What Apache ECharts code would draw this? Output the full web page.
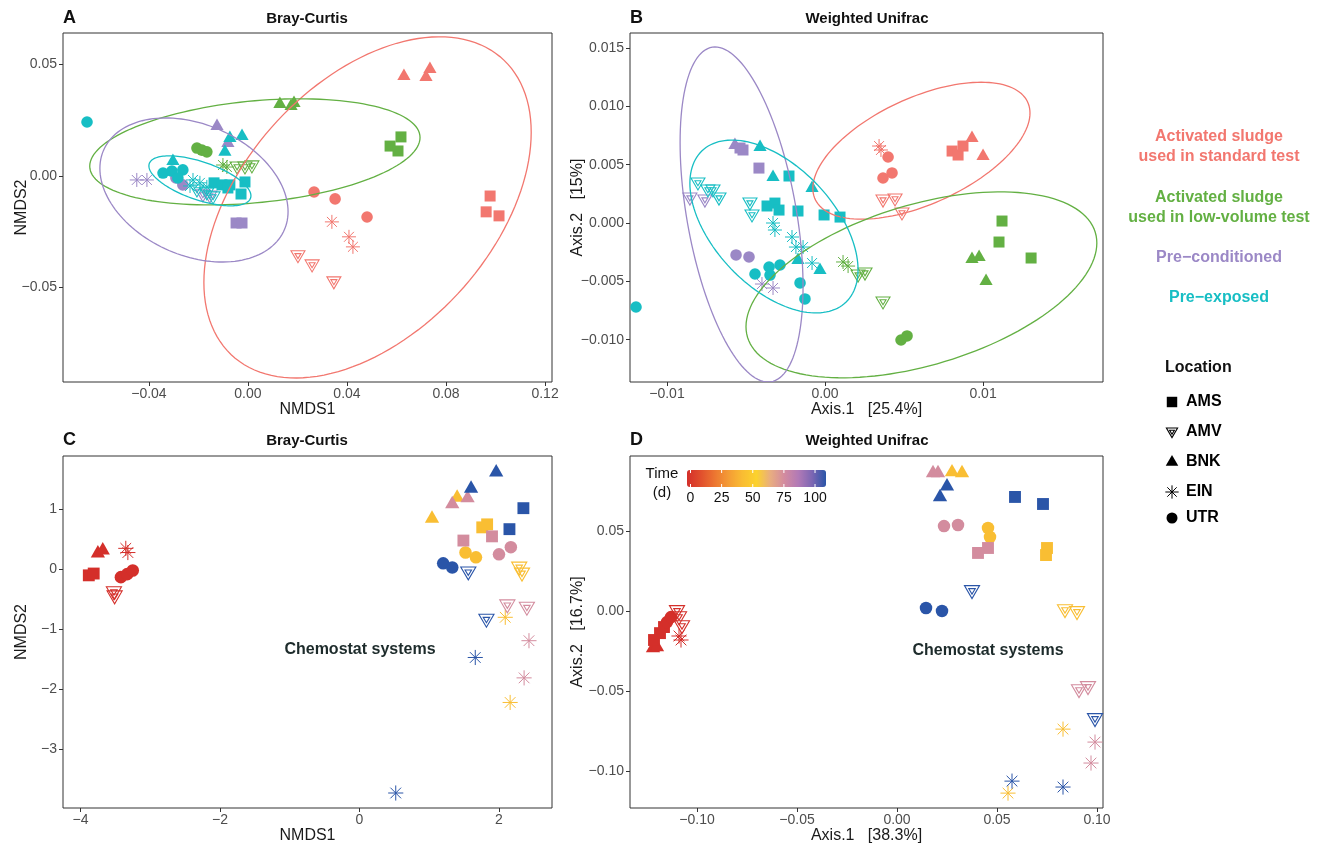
<!DOCTYPE html>
<html>
<head>
<meta charset="utf-8">
<title>Bray-Curtis / Weighted Unifrac ordinations</title>
<script src="https://cdn.jsdelivr.net/npm/echarts@6/dist/echarts.min.js"></script>
<style>
  html, body { margin: 0; padding: 0; background: #fff; }
  #chart { width: 1322px; height: 846px; }
</style>
</head>
<body>
<div id="chart"></div>
<script>
// location codes, legend order
const locations = ['AMS', 'AMV', 'BNK', 'EIN', 'UTR'];
const groupNames = ['Activated sludge\nused in standard test', 'Activated sludge\nused in low-volume test', 'Pre\u2212conditioned', 'Pre\u2212exposed'];
const groupColors = ['#f2776f', '#63b043', '#9b88c6', '#17bec4'];

// A: Bray-Curtis NMDS  [NMDS1, NMDS2, location]
const aStandard = [
  [0.0630, 0.0448, 'BNK'], [0.0719, 0.0444, 'BNK'], [0.0735, 0.0480, 'BNK'],
  [0.0978, -0.0090, 'AMS'], [0.0962, -0.0161, 'AMS'], [0.1014, -0.0179, 'AMS'],
  [0.0267, -0.0072, 'UTR'], [0.0352, -0.0103, 'UTR'], [0.0481, -0.0184, 'UTR'],
  [0.0339, -0.0206, 'EIN'], [0.0408, -0.0273, 'EIN'], [0.0424, -0.0318, 'EIN'],
  [0.0202, -0.0358, 'AMV'], [0.0259, -0.0399, 'AMV'], [0.0347, -0.0475, 'AMV']
];
const aLowVolume = [
  [0.0129, 0.0323, 'BNK'], [0.0174, 0.0314, 'BNK'], [0.0186, 0.0327, 'BNK'],
  [0.0618, 0.0175, 'AMS'], [0.0574, 0.0134, 'AMS'], [0.0606, 0.0112, 'AMS'],
  [-0.0206, 0.0125, 'UTR'], [-0.0186, 0.0116, 'UTR'], [-0.0166, 0.0108, 'UTR'],
  [-0.0101, 0.0049, 'EIN'], [-0.0085, 0.0040, 'EIN'],
  [-0.0044, 0.0040, 'AMV'], [-0.0012, 0.0040, 'AMV'], [0.0016, 0.0045, 'AMV']
];
const aPreConditioned = [
  [-0.0125, 0.0224, 'BNK'], [-0.0081, 0.0148, 'BNK'],
  [-0.0048, -0.0211, 'AMS'], [-0.0024, -0.0211, 'AMS'],
  [-0.0291, -0.0009, 'UTR'], [-0.0263, -0.0040, 'UTR'],
  [-0.0449, -0.0018, 'EIN'], [-0.0408, -0.0018, 'EIN'],
  [-0.0182, -0.0085, 'AMV'], [-0.0154, -0.0090, 'AMV']
];
const aPreExposed = [
  [-0.0650, 0.0242, 'UTR'], [-0.0343, 0.0013, 'UTR'], [-0.0307, 0.0022, 'UTR'], [-0.0263, 0.0027, 'UTR'], [-0.0283, -0.0009, 'UTR'],
  [-0.0303, 0.0067, 'BNK'], [-0.0093, 0.0108, 'BNK'], [-0.0073, 0.0170, 'BNK'], [-0.0024, 0.0179, 'BNK'],
  [-0.0137, -0.0031, 'AMS'], [-0.0105, -0.0040, 'AMS'], [-0.0073, -0.0040, 'AMS'], [-0.0012, -0.0027, 'AMS'], [-0.0028, -0.0081, 'AMS'], [-0.0081, -0.0054, 'AMS'],
  [-0.0222, -0.0018, 'EIN'], [-0.0194, -0.0031, 'EIN'], [-0.0166, -0.0049, 'EIN'], [-0.0234, -0.0045, 'EIN'],
  [-0.0206, -0.0063, 'AMV'], [-0.0166, -0.0076, 'AMV'], [-0.0141, -0.0094, 'AMV']
];
// confidence ellipses [centre x, centre y, half width, half height, correlation]
const aEllipses = [
  [0.0483, -0.0141, 0.0661, 0.0765, 0.44],
  [0.0028, 0.0108, 0.0667, 0.0238, 0.27],
  [-0.0218, -0.0063, 0.0380, 0.0323, -0.30],
  [-0.0194, -0.0022, 0.0206, 0.0112, -0.60]
];

// B: Weighted Unifrac PCoA  [Axis.1, Axis.2, location]
const bStandard = [
  [0.00342, 0.00660, 'EIN'], [0.00354, 0.00626, 'EIN'],
  [0.00399, 0.00566, 'UTR'], [0.00367, 0.00386, 'UTR'], [0.00424, 0.00429, 'UTR'],
  [0.00804, 0.00617, 'AMS'], [0.00842, 0.00583, 'AMS'], [0.00873, 0.00660, 'AMS'],
  [0.00930, 0.00728, 'BNK'], [0.01000, 0.00574, 'BNK'],
  [0.00367, 0.00197, 'AMV'], [0.00443, 0.00206, 'AMV'], [0.00487, 0.00086, 'AMV']
];
const bLowVolume = [
  [0.01120, 0.00017, 'AMS'], [0.01101, -0.00163, 'AMS'], [0.01304, -0.00300, 'AMS'],
  [0.00930, -0.00309, 'BNK'], [0.00975, -0.00291, 'BNK'], [0.01019, -0.00497, 'BNK'],
  [0.00481, -0.01003, 'UTR'], [0.00519, -0.00968, 'UTR'],
  [0.00114, -0.00334, 'EIN'], [0.00146, -0.00369, 'EIN'],
  [0.00209, -0.00446, 'AMV'], [0.00253, -0.00429, 'AMV'], [0.00367, -0.00677, 'AMV']
];
const bPreConditioned = [
  [-0.00570, 0.00668, 'BNK'],
  [-0.00538, 0.00643, 'AMS'], [-0.00519, 0.00626, 'AMS'], [-0.00418, 0.00471, 'AMS'],
  [-0.00563, -0.00274, 'UTR'], [-0.00481, -0.00291, 'UTR'],
  [-0.00399, -0.00523, 'EIN'], [-0.00329, -0.00557, 'EIN'],
  [-0.00855, 0.00214, 'AMV'], [-0.00760, 0.00197, 'AMV']
];
const bPreExposed = [
  [-0.01196, -0.00720, 'UTR'], [-0.00443, -0.00437, 'UTR'], [-0.00354, -0.00377, 'UTR'], [-0.00285, -0.00360, 'UTR'],
  [-0.00348, -0.00446, 'UTR'], [-0.00158, -0.00514, 'UTR'], [-0.00127, -0.00651, 'UTR'],
  [-0.00411, 0.00651, 'BNK'], [-0.00329, 0.00394, 'BNK'], [-0.00082, 0.00300, 'BNK'], [-0.00171, -0.00317, 'BNK'], [-0.00032, -0.00403, 'BNK'],
  [-0.00228, 0.00403, 'AMS'], [-0.00367, 0.00146, 'AMS'], [-0.00317, 0.00171, 'AMS'], [-0.00291, 0.00111, 'AMS'],
  [-0.00171, 0.00103, 'AMS'], [-0.00006, 0.00069, 'AMS'], [0.00095, 0.00051, 'AMS'],
  [-0.00329, 0.00000, 'EIN'], [-0.00317, -0.00060, 'EIN'], [-0.00209, -0.00120, 'EIN'], [-0.00184, -0.00206, 'EIN'],
  [-0.00139, -0.00206, 'EIN'], [-0.00082, -0.00343, 'EIN'],
  [-0.00804, 0.00343, 'AMV'], [-0.00741, 0.00283, 'AMV'], [-0.00709, 0.00283, 'AMV'], [-0.00671, 0.00214, 'AMV'],
  [-0.00475, 0.00171, 'AMV'], [-0.00462, 0.00069, 'AMV']
];
const bEllipses = [
  [0.0061, 0.0062, 0.00687, 0.00587, 0.55],
  [0.0061, -0.0053, 0.0111, 0.00797, 0.45],
  [-0.00528, 0.00073, 0.00389, 0.01436, -0.43],
  [-0.00323, -0.0003, 0.00532, 0.00741, -0.50]
];

// chemostat sampling days (colour scale)
const days = [0, 43, 74, 106];
const timeColors = ['#d42f2a', '#e14f2d', '#ec7631', '#f49c35', '#f9bd33', '#fcd22d',
  '#e8ad80', '#d38b9f', '#b27ab6', '#7c66b3', '#2a55a8'];
const timeTicks = [0, 25, 50, 75, 100];

// C: Bray-Curtis NMDS of chemostats
const cDay0 = [
  [-3.75, 0.27, 'BNK'], [-3.68, 0.32, 'BNK'],
  [-3.35, 0.35, 'EIN'], [-3.32, 0.28, 'EIN'],
  [-3.88, -0.10, 'AMS'], [-3.81, -0.07, 'AMS'],
  [-3.42, -0.13, 'UTR'], [-3.33, -0.08, 'UTR'], [-3.25, -0.02, 'UTR'],
  [-3.52, -0.38, 'AMV'], [-3.51, -0.45, 'AMV']
];
const cDay43 = [
  [1.04, 0.85, 'BNK'], [1.40, 1.20, 'BNK'],
  [1.76, 0.70, 'AMS'], [1.83, 0.75, 'AMS'],
  [1.52, 0.28, 'UTR'], [1.67, 0.20, 'UTR'],
  [2.29, 0.03, 'AMV'], [2.33, -0.07, 'AMV'],
  [2.09, -0.80, 'EIN'], [2.16, -2.22, 'EIN']
];
const cDay74 = [
  [1.33, 1.09, 'BNK'], [1.55, 1.19, 'BNK'],
  [1.49, 0.48, 'AMS'], [1.90, 0.55, 'AMS'],
  [2.00, 0.25, 'UTR'], [2.17, 0.37, 'UTR'],
  [2.12, -0.60, 'AMV'], [2.40, -0.64, 'AMV'],
  [2.43, -1.19, 'EIN'], [2.36, -1.81, 'EIN']
];
const cDay106 = [
  [1.96, 1.62, 'BNK'], [1.60, 1.35, 'BNK'],
  [2.35, 1.02, 'AMS'], [2.15, 0.67, 'AMS'],
  [1.20, 0.10, 'UTR'], [1.33, 0.03, 'UTR'],
  [1.56, -0.05, 'AMV'], [1.82, -0.84, 'AMV'],
  [1.66, -1.47, 'EIN'], [0.52, -3.73, 'EIN']
];

// D: Weighted Unifrac PCoA of chemostats
const dDay0 = [
  [-0.1220, -0.0231, 'BNK'], [-0.1200, -0.0225, 'BNK'],
  [-0.1215, -0.0181, 'AMS'], [-0.1185, -0.0138, 'AMS'], [-0.1165, -0.0100, 'AMS'],
  [-0.1150, -0.0069, 'UTR'], [-0.1130, -0.0038, 'UTR'],
  [-0.1100, 0.0000, 'AMV'], [-0.1090, -0.0038, 'AMV'], [-0.1075, -0.0094, 'AMV'],
  [-0.1090, -0.0156, 'EIN'], [-0.1080, -0.0181, 'EIN']
];
const dDay43 = [
  [0.0275, 0.0869, 'BNK'], [0.0325, 0.0863, 'BNK'],
  [0.0455, 0.0519, 'UTR'], [0.0465, 0.0463, 'UTR'],
  [0.0750, 0.0394, 'AMS'], [0.0745, 0.0350, 'AMS'],
  [0.0840, 0.0006, 'AMV'], [0.0900, -0.0006, 'AMV'],
  [0.0830, -0.0738, 'EIN'], [0.0555, -0.1138, 'EIN']
];
const dDay74 = [
  [0.0180, 0.0863, 'BNK'], [0.0205, 0.0863, 'BNK'],
  [0.0235, 0.0531, 'UTR'], [0.0305, 0.0538, 'UTR'],
  [0.0405, 0.0363, 'AMS'], [0.0455, 0.0394, 'AMS'],
  [0.0910, -0.0494, 'AMV'], [0.0955, -0.0475, 'AMV'],
  [0.0990, -0.0819, 'EIN'], [0.0970, -0.0950, 'EIN']
];
const dDay106 = [
  [0.0215, 0.0713, 'BNK'], [0.0250, 0.0781, 'BNK'],
  [0.0590, 0.0713, 'AMS'], [0.0730, 0.0669, 'AMS'],
  [0.0145, 0.0019, 'UTR'], [0.0225, 0.0000, 'UTR'],
  [0.0375, 0.0125, 'AMV'], [0.0990, -0.0675, 'AMV'],
  [0.0575, -0.1063, 'EIN'], [0.0830, -0.1100, 'EIN']
];

// tick labels
const aXTicks = [-0.04, 0, 0.04, 0.08, 0.12];
const aYTicks = [-0.05, 0, 0.05];
const bXTicks = [-0.01, 0, 0.01];
const bYTicks = [-0.010, -0.005, 0, 0.005, 0.010, 0.015];
const cXTicks = [-4, -2, 0, 2];
const cYTicks = [-3, -2, -1, 0, 1];
const dXTicks = [-0.10, -0.05, 0, 0.05, 0.10];
const dYTicks = [-0.10, -0.05, 0, 0.05];

const FONT = '"Liberation Sans", Arial, Helvetica, sans-serif';

// panel layout
const panels = [
  { box: [63, 33, 489, 349], x: [-0.0747, 0.1228], y: [-0.0924, 0.0641], xt: aXTicks, yt: aYTicks, dec: [2, 2],
    xName: 'NMDS1', yName: 'NMDS2', yGap: 33 },
  { box: [630, 33, 473, 349], x: [-0.01234, 0.01759], y: [-0.01363, 0.01629], xt: bXTicks, yt: bYTicks, dec: [2, 3],
    xName: 'Axis.1   [25.4%]', yName: 'Axis.2   [15%]', yGap: 44 },
  { box: [63, 456, 489, 352], x: [-4.25, 2.76], y: [-3.98, 1.89], xt: cXTicks, yt: cYTicks, dec: [0, 0],
    xName: 'NMDS1', yName: 'NMDS2', yGap: 33 },
  { box: [630, 456, 473, 352], x: [-0.1335, 0.1030], y: [-0.1231, 0.0969], xt: dXTicks, yt: dYTicks, dec: [2, 2],
    xName: 'Axis.1   [38.3%]', yName: 'Axis.2   [16.7%]', yGap: 44 }
];

function signed(dec) {
  return function (v) {
    if (Math.abs(v) < 1e-12) v = 0;
    const s = Math.abs(v).toFixed(dec);
    return v < 0 ? '\u2212' + s : s;
  };
}

function axis(i, p, isY) {
  const ticks = isY ? p.yt : p.xt;
  const range = isY ? p.y : p.x;
  return {
    gridIndex: i,
    type: 'value',
    min: range[0],
    max: range[1],
    axisLine: { show: false, onZero: false },
    axisTick: { show: true, length: 4, customValues: ticks, lineStyle: { color: '#333', width: 1 } },
    axisLabel: { customValues: ticks, formatter: signed(p.dec[isY ? 1 : 0]), fontFamily: FONT,
      fontSize: 14, color: '#4d4d4d', margin: isY ? 6 : 5 },
    splitLine: { show: false },
    name: isY ? p.yName : p.xName,
    nameLocation: 'middle',
    nameGap: isY ? p.yGap : 20,
    nameMoveOverlap: false,
    nameTextStyle: { fontFamily: FONT, fontSize: 16, color: '#1a1a1a' }
  };
}

// marker shapes, drawn around pixel (x, y)
function mark(loc, x, y, color, s) {
  const line = (x1, y1, x2, y2) => ({ type: 'line', shape: { x1, y1, x2, y2 }, style: { stroke: color, lineWidth: 1 } });
  if (loc === 0) {
    return { type: 'rect', shape: { x: x - 5.5 * s, y: y - 5.5 * s, width: 11 * s, height: 11 * s }, style: { fill: color } };
  }
  if (loc === 1) {
    return { type: 'group', children: [
      { type: 'polygon', shape: { points: [[x - 7 * s, y - 5 * s], [x + 7 * s, y - 5 * s], [x, y + 7 * s]] },
        style: { fill: 'none', stroke: color, lineWidth: 1.1 } },
      { type: 'polygon', shape: { points: [[x - 3 * s, y - 2.2 * s], [x + 3 * s, y - 2.2 * s], [x, y + 2.8 * s]] },
        style: { fill: 'none', stroke: color, lineWidth: 1.1 } }
    ] };
  }
  if (loc === 2) {
    return { type: 'polygon', shape: { points: [[x, y - 7.5 * s], [x + 6.6 * s, y + 4 * s], [x - 6.6 * s, y + 4 * s]] },
      style: { fill: color } };
  }
  if (loc === 3) {
    const r = 7 * s, d = r * 0.7071;
    return { type: 'group', children: [
      line(x - r, y, x + r, y), line(x, y - r, x, y + r),
      line(x - d, y - d, x + d, y + d), line(x - d, y + d, x + d, y - d)
    ] };
  }
  return { type: 'circle', shape: { cx: x, cy: y, r: 5.8 * s }, style: { fill: color } };
}

const series = [];

function pointSeries(i, rows, color, day, s) {
  series.push({
    type: 'custom',
    xAxisIndex: i,
    yAxisIndex: i,
    dimensions: ['x', 'y', 'loc', 'day'],
    encode: { x: 0, y: 1 },
    data: rows.map(r => [r[0], r[1], locations.indexOf(r[2]), day]),
    renderItem: function (params, api) {
      const p = api.coord([api.value(0), api.value(1)]);
      return mark(api.value(2), p[0], p[1], color || api.visual('color'), s);
    }
  });
  return series.length - 1;
}

function ellipseSeries(i, rows) {
  series.push({
    type: 'custom',
    xAxisIndex: i,
    yAxisIndex: i,
    silent: true,
    clip: true,
    encode: { x: 0, y: 1 },
    data: rows,
    renderItem: function (params, api) {
      const cx = api.value(0), cy = api.value(1), w = api.value(2), h = api.value(3), r = api.value(4);
      const q = Math.sqrt(1 - r * r);
      const pts = [];
      for (let k = 0; k <= 140; k++) {
        const t = k / 140 * Math.PI * 2;
        pts.push(api.coord([cx + w * Math.cos(t), cy + h * (r * Math.cos(t) + q * Math.sin(t))]));
      }
      return { type: 'polyline', shape: { points: pts },
        style: { fill: 'none', stroke: groupColors[params.dataIndex], lineWidth: 1.3 } };
    }
  });
}

[aStandard, aLowVolume, aPreConditioned, aPreExposed].forEach((rows, g) => pointSeries(0, rows, groupColors[g], 0, 1));
ellipseSeries(0, aEllipses);
[bStandard, bLowVolume, bPreConditioned, bPreExposed].forEach((rows, g) => pointSeries(1, rows, groupColors[g], 0, 1));
ellipseSeries(1, bEllipses);

const timeSeries = [];
[cDay0, cDay43, cDay74, cDay106].forEach((rows, k) => timeSeries.push(pointSeries(2, rows, null, days[k], 1.08)));
[dDay0, dDay43, dDay74, dDay106].forEach((rows, k) => timeSeries.push(pointSeries(3, rows, null, days[k], 1.08)));

// colour bar geometry (panel D)
const barLeft = 687, barTop = 470, barLen = 139, barThick = 17, barMax = 106, binHalf = 3.5;
const tickX = t => barLeft + binHalf + t / barMax * (barLen - 2 * binHalf);

const graphics = [];
function text(str, x, y, opt) {
  graphics.push({
    type: 'text', x: x, y: y, silent: true,
    style: Object.assign({ text: str, fill: '#111', font: '15px ' + FONT,
      textAlign: 'center', textVerticalAlign: 'middle', align: 'center', verticalAlign: 'middle' }, opt || {})
  });
}
const bold = size => 'bold ' + size + 'px ' + FONT;

// panel letters and titles
[['A', 63, 18], ['B', 630, 18], ['C', 63, 440], ['D', 630, 440]].forEach(l =>
  text(l[0], l[1], l[2], { font: bold(18), textAlign: 'left', align: 'left' }));
text('Bray-Curtis', 307, 19, { font: bold(15) });
text('Weighted Unifrac', 867, 19, { font: bold(15) });
text('Bray-Curtis', 307, 441, { font: bold(15) });
text('Weighted Unifrac', 867, 441, { font: bold(15) });
text('Chemostat systems', 360, 650, { font: bold(16), fill: '#1d2b2b' });
text('Chemostat systems', 988, 651, { font: bold(16), fill: '#1d2b2b' });

// group legend
const groupY = [147, 208, 258, 298];
groupNames.forEach((n, g) => text(n, 1219, groupY[g], { font: bold(16), fill: groupColors[g], lineHeight: 20 }));

// location legend
text('Location', 1165, 368, { font: bold(16), textAlign: 'left', align: 'left' });
const locY = [402, 432, 462, 492, 518];
locations.forEach((l, k) => {
  graphics.push(Object.assign({ silent: true }, mark(k, 1172, locY[k], '#000', k === 1 ? 0.8 : 0.95)));
  text(l, 1186, locY[k], { font: bold(16), textAlign: 'left', align: 'left', fill: '#000' });
});

// colour bar labels
text('Time', 662, 474, { font: '15px ' + FONT });
text('(d)', 662, 493, { font: '15px ' + FONT });
timeTicks.forEach(t => {
  const x = tickX(t);
  text(String(t), x, 498, { font: '14px ' + FONT });
  graphics.push({ type: 'line', silent: true, z: 100, shape: { x1: x, y1: barTop, x2: x, y2: barTop + 3 }, style: { stroke: '#fff', lineWidth: 1 } });
  graphics.push({ type: 'line', silent: true, z: 100, shape: { x1: x, y1: barTop + barThick - 3, x2: x, y2: barTop + barThick }, style: { stroke: '#fff', lineWidth: 1 } });
});

const chart = echarts.init(document.getElementById('chart'));
chart.setOption({
  animation: false,
  backgroundColor: '#fff',
  grid: panels.map(p => ({ left: p.box[0], top: p.box[1], width: p.box[2], height: p.box[3],
    show: true, borderColor: '#333', borderWidth: 1, containLabel: false })),
  xAxis: panels.map((p, i) => axis(i, p, false)),
  yAxis: panels.map((p, i) => axis(i, p, true)),
  visualMap: {
    type: 'continuous',
    min: 0,
    max: barMax,
    dimension: 3,
    seriesIndex: timeSeries,
    orient: 'horizontal',
    left: barLeft,
    top: barTop,
    itemWidth: barThick,
    itemHeight: barLen,
    padding: 0,
    calculable: false,
    hoverLink: false,
    inRange: { color: timeColors }
  },
  graphic: graphics,
  series: series
});
</script>
</body>
</html>
